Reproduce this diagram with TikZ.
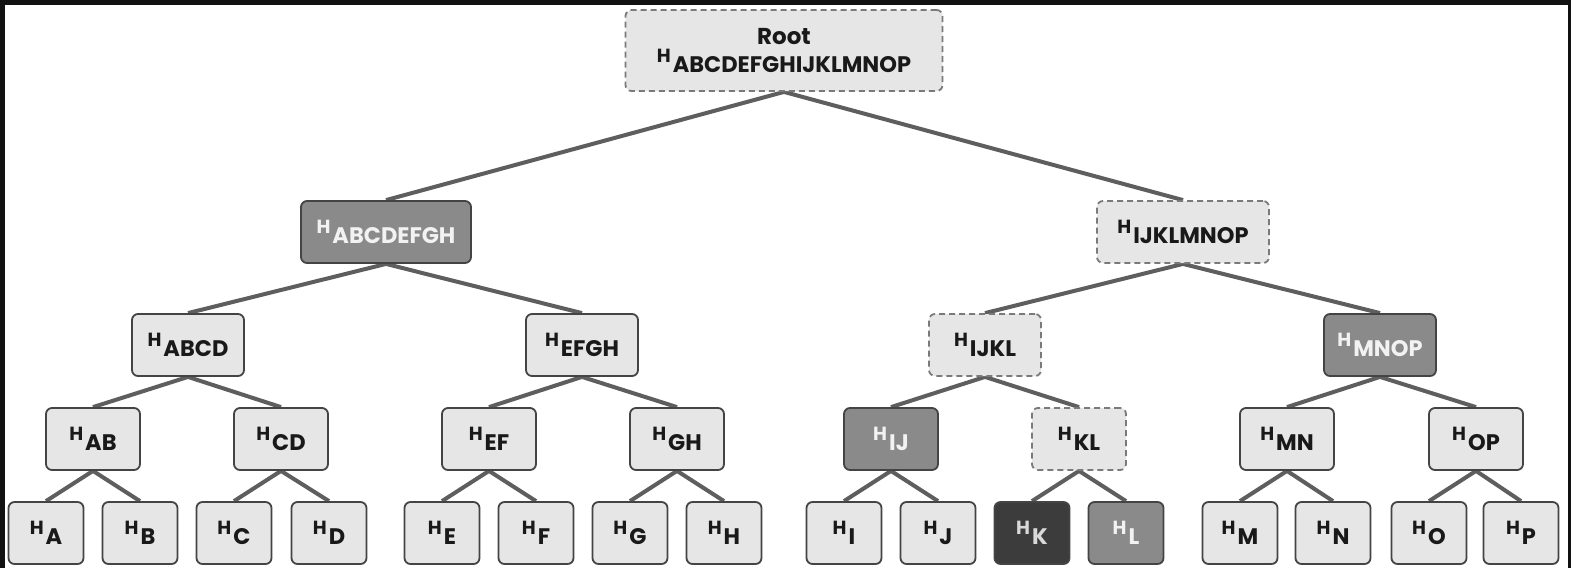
\documentclass[tikz,border=0pt]{standalone}
\usepackage{fontspec}
\setmainfont{Poppins}
\usetikzlibrary{backgrounds}
\definecolor{lightfill}{HTML}{E6E6E6}
\definecolor{midfill}{HTML}{8A8A8A}
\definecolor{darkfill}{HTML}{3C3C3C}
\definecolor{boxline}{HTML}{444444}
\definecolor{dashline}{HTML}{7A7A7A}
\definecolor{edgecol}{HTML}{5E5E5E}
\definecolor{framecol}{HTML}{111111}
\newcommand\hx[1]{{\fontsize{19}{19}\selectfont H}\kern2pt\raisebox{-10pt}{\fontsize{22.5}{22.5}\selectfont #1}}
\tikzset{
  box/.style={draw=boxline, line width=1.8pt, rounded corners=6pt, fill=lightfill,
    inner sep=0pt, font=\bfseries, text=black!90},
  midbox/.style={box, fill=midfill, text=white!95!black},
  darkbox/.style={box, fill=darkfill, text=white!85!black},
  dashbox/.style={box, draw=dashline, dash pattern=on 6pt off 4pt},
  leaf/.style={minimum width=75pt, minimum height=62pt},
  lfour/.style={minimum width=94pt, minimum height=62pt},
  lthree/.style={minimum width=112pt, minimum height=62pt},
  edge/.style={draw=edgecol, line width=4pt}
}
\begin{document}
\begin{tikzpicture}[x=1pt,y=-1pt]
\useasboundingbox (0,0) rectangle (1571,568);
% root
\node[dashbox, minimum width=317pt, minimum height=81pt, align=center] (root) at (784,50.5)
  {{\fontsize{23}{23}\selectfont Root}\\[3pt]\hx{ABCDEFGHIJKLMNOP}};
% level 2
\node[midbox, minimum width=170pt, minimum height=62pt] (n1) at (386,232) {\hx{ABCDEFGH}};
\node[dashbox, minimum width=172pt, minimum height=62pt] (n2) at (1183,232) {\hx{IJKLMNOP}};
% level 3
\node[box, lthree] (abcd) at (188,345) {\hx{ABCD}};
\node[box, lthree] (efgh) at (582,345) {\hx{EFGH}};
\node[dashbox, lthree] (ijkl) at (985,345) {\hx{IJKL}};
\node[midbox, lthree] (mnop) at (1380,345) {\hx{MNOP}};
% level 4
\node[box, lfour] (ab) at (93,439) {\hx{AB}};
\node[box, lfour] (cd) at (281,439) {\hx{CD}};
\node[box, lfour] (ef) at (489,439) {\hx{EF}};
\node[box, lfour] (gh) at (677,439) {\hx{GH}};
\node[midbox, lfour] (ij) at (891,439) {\hx{IJ}};
\node[dashbox, lfour] (kl) at (1079,439) {\hx{KL}};
\node[box, lfour] (mn) at (1287,439) {\hx{MN}};
\node[box, lfour] (op) at (1476,439) {\hx{OP}};
% leaves
\node[box, leaf] (a) at (46,533) {\hx{A}};
\node[box, leaf] (b) at (140,533) {\hx{B}};
\node[box, leaf] (c) at (234,533) {\hx{C}};
\node[box, leaf] (d) at (329,533) {\hx{D}};
\node[box, leaf] (e) at (442,533) {\hx{E}};
\node[box, leaf] (f) at (536,533) {\hx{F}};
\node[box, leaf] (g) at (630,533) {\hx{G}};
\node[box, leaf] (h) at (724,533) {\hx{H}};
\node[box, leaf] (i) at (844,533) {\hx{I}};
\node[box, leaf] (j) at (938,533) {\hx{J}};
\node[darkbox, leaf] (k) at (1032,533) {\hx{K}};
\node[midbox, leaf] (l) at (1126,533) {\hx{L}};
\node[box, leaf] (m) at (1240,533) {\hx{M}};
\node[box, leaf] (n) at (1333,533) {\hx{N}};
\node[box, leaf] (o) at (1429,533) {\hx{O}};
\node[box, leaf] (p) at (1521,533) {\hx{P}};
\begin{scope}[on background layer]
  \fill[framecol] (0,0) rectangle (1571,568);
  \fill[white] (5,5) rectangle (1568,568);
  \foreach \u/\v in {root/n1, root/n2, n1/abcd, n1/efgh, n2/ijkl, n2/mnop,
      abcd/ab, abcd/cd, efgh/ef, efgh/gh, ijkl/ij, ijkl/kl, mnop/mn, mnop/op,
      ab/a, ab/b, cd/c, cd/d, ef/e, ef/f, gh/g, gh/h,
      ij/i, ij/j, kl/k, kl/l, mn/m, mn/n, op/o, op/p}
    \draw[edge] (\u.south) -- (\v.north);
\end{scope}
\end{tikzpicture}
\end{document}
